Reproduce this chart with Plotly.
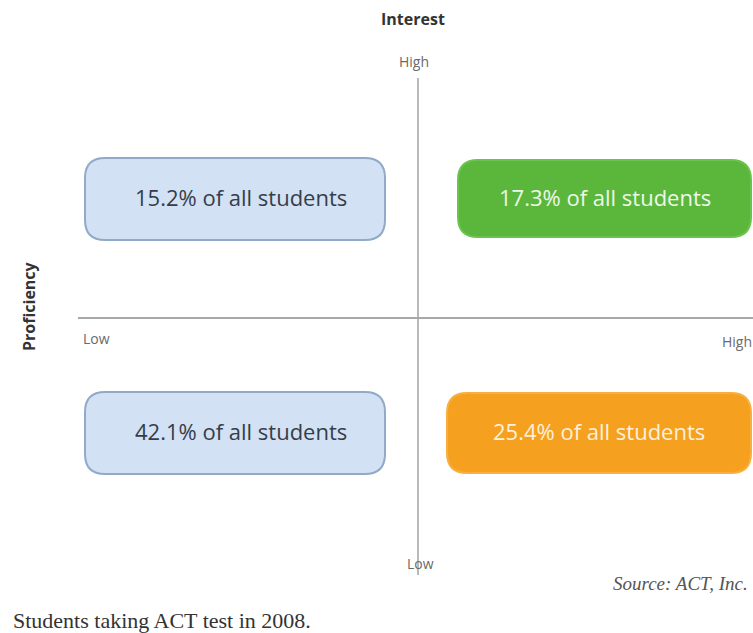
import plotly.graph_objects as go

# ---- data ----
quadrants = ["Low interest, high proficiency", "High interest, high proficiency",
             "Low interest, low proficiency", "High interest, low proficiency"]
interest_side = [-1, 1, -1, 1]       # -1 = low interest, +1 = high interest
proficiency_side = [1, 1, -1, -1]    # +1 = high, -1 = low
shares = [15.2, 17.3, 42.1, 25.4]    # % of all students
box_fill = ["#d2e2f4", "#5bb73c", "#d2e2f4", "#f5a11f"]
box_line = ["#90aac8", "#6cc24e", "#90aac8", "#f7b040"]
text_color = ["#363d4a", "#eef7e8", "#363d4a", "#fdf0dc"]
axis_labels = {"top": "High", "bottom": "Low", "left": "Low", "right": "High"}
x_title = "Interest"
y_title = "Proficiency"
footnote = "Students taking ACT test in 2008."
source = "Source: ACT, Inc."

W, H = 753, 633
# axis units: 1 unit = 100 px, origin at the quadrant cross
x_range = [-4.18, 3.35]
y_range = [-3.15, 3.18]

# box geometry in axis units, keyed by (interest side, proficiency side)
box_x = {(-1, 1): (-3.33, -0.33), (1, 1): (0.40, 3.33),
         (-1, -1): (-3.33, -0.33), (1, -1): (0.29, 3.33)}
box_y = {(-1, 1): (0.78, 1.60), (1, 1): (0.81, 1.58),
         (-1, -1): (-1.56, -0.74), (1, -1): (-1.55, -0.75)}
text_dx = {-1: 0.06, 1: 0.0}
r = 0.2


def rounded_rect(x0, y0, x1, y1, r):
    return (f"M {x0+r},{y0} L {x1-r},{y0} Q {x1},{y0} {x1},{y0+r} "
            f"L {x1},{y1-r} Q {x1},{y1} {x1-r},{y1} L {x0+r},{y1} "
            f"Q {x0},{y1} {x0},{y1-r} L {x0},{y0+r} Q {x0},{y0} {x0+r},{y0} Z")


fig = go.Figure()
fig.add_trace(go.Scatter(x=[0], y=[0], mode="markers", marker=dict(opacity=0),
                         hoverinfo="skip", showlegend=False))

shapes = []
annotations = []
# quadrant axes
shapes.append(dict(type="line", x0=-3.40, x1=3.40, y0=0, y1=0,
                   line=dict(color="#a8a8a8", width=2.2), layer="below"))
shapes.append(dict(type="line", x0=0, x1=0, y0=-2.57, y1=2.40,
                   line=dict(color="#a8a8a8", width=1.6), layer="below"))

for q, xs, ys, v, fc, lc, tc in zip(quadrants, interest_side, proficiency_side,
                                     shares, box_fill, box_line, text_color):
    x0, x1 = box_x[(xs, ys)]
    y0, y1 = box_y[(xs, ys)]
    shapes.append(dict(type="path", path=rounded_rect(x0, y0, x1, y1, r),
                       fillcolor=fc, line=dict(color=lc, width=2)))
    annotations.append(dict(x=(x0 + x1) / 2 + text_dx[xs], y=(y0 + y1) / 2 + 0.02,
                            text=f"{v}% of all students", showarrow=False,
                            font=dict(family="Open Sans", size=22, color=tc)))

small = dict(family="Open Sans", size=14, color="#6a6a6a")
annotations += [
    dict(x=-0.05, y=2.99, text=f"<b>{x_title}</b>", showarrow=False,
         font=dict(family="Open Sans", size=16, color="#333")),
    dict(x=-0.04, y=2.57, text=axis_labels["top"], showarrow=False, font=small),
    dict(x=0.02, y=-2.45, text=axis_labels["bottom"], showarrow=False, font=small),
    dict(x=-3.37, y=-0.20, text=axis_labels["left"], showarrow=False, xanchor="left", font=small),
    dict(x=3.02, y=-0.23, text=axis_labels["right"], showarrow=False, xanchor="left", font=small),
    dict(x=-3.89, y=0.12, text=f"<b>{y_title}</b>", showarrow=False, textangle=-90,
         font=dict(family="Open Sans", size=16, color="#333")),
    dict(x=-4.07, y=-3.02, text=footnote, showarrow=False, xanchor="left",
         font=dict(family="Liberation Serif", size=22, color="#333")),
    dict(x=1.93, y=-2.65, text=f"<i>{source}</i>", showarrow=False, xanchor="left",
         font=dict(family="Liberation Serif", size=19, color="#555")),
]

fig.update_layout(
    width=W, height=H, margin=dict(l=0, r=0, t=0, b=0),
    paper_bgcolor="white", plot_bgcolor="white",
    xaxis=dict(range=x_range, visible=False, fixedrange=True),
    yaxis=dict(range=y_range, visible=False, fixedrange=True),
    shapes=shapes, annotations=annotations, showlegend=False,
)
fig.write_html("out.html", config={"displayModeBar": False},
               post_script="document.body.style.margin='0';document.body.style.overflow='hidden';")
